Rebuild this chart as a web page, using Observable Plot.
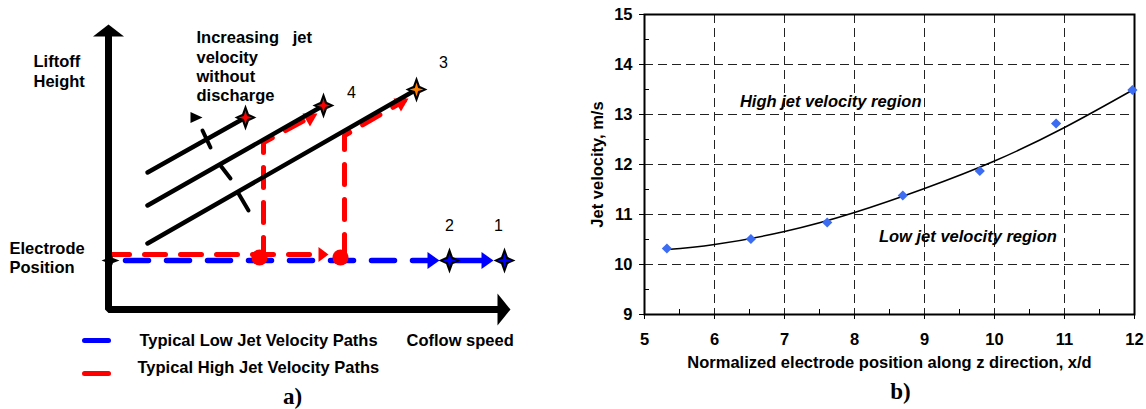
<!DOCTYPE html>
<html>
<head>
<meta charset="utf-8">
<script src="https://cdn.jsdelivr.net/npm/d3@7"></script>
<script src="https://cdn.jsdelivr.net/npm/@observablehq/plot@0.6"></script>
<style>
  html, body { margin: 0; padding: 0; background: #fff; }
  #fig { display: flex; width: 1146px; height: 409px; overflow: hidden; }
  svg text { white-space: pre; }
</style>
</head>
<body>
<div id="fig"></div>
<script>
// ---------------- Panel b data ----------------
const electrodePos = [5.32, 6.52, 7.61, 8.69, 9.79, 10.88, 11.97];
const jetVelocity  = [10.32, 10.51, 10.84, 11.38, 11.87, 12.82, 13.49];
const trendX = [5.32, 6, 7, 8, 9, 10, 11, 12];
const trendY = [10.30, 10.40, 10.66, 11.04, 11.52, 12.07, 12.74, 13.51];
const xTickValues = [5, 6, 7, 8, 9, 10, 11, 12];
const yTickValues = [9, 10, 11, 12, 13, 14, 15];
const xMinorTicks = [5.5, 6.5, 7.5, 8.5, 9.5, 10.5, 11.5];
const yMinorTicks = [9.5, 10.5, 11.5, 12.5, 13.5, 14.5];
const xGridValues = [6, 7, 8, 9, 10, 11];
const yGridValues = [10, 11, 12, 13, 14];
const regionNames = ["High jet velocity region", "Low jet velocity region"];
const regionX = [7.66, 9.62];
const regionY = [13.26, 10.55];
const xTitle = "Normalized electrode position along z direction, x/d";
const yTitle = "Jet velocity, m/s";

// ---------------- Panel a schematic (u = coflow speed, v = liftoff height, arbitrary units) ----------------
const axisPath = [{u: 0, v: 274}, {u: 0, v: 0}, {u: 390, v: 0}];
const axisHeadUp = [{u: 0, v: 285}];
const axisHeadRight = [{u: 402, v: 0}];
const lowPath = [{u: 17, v: 49}, {u: 322, v: 49}];
const lowSolid = [{u: 341, v: 49}, {u: 378, v: 49}];
const lowHeads = [{u: 331, v: 49}, {u: 385, v: 49}];
const highBase = [{u: 0, v: 55}, {u: 210, v: 55}];
const highBaseHead = [{u: 220, v: 55}];
const highPath1 = [{u: 155, v: 52}, {u: 155, v: 167}, {u: 205, v: 194}];
const highPath2 = [{u: 236, v: 55}, {u: 236, v: 174}, {u: 296, v: 209}];
const highDiagHeads = [{u: 209, v: 196}, {u: 300, v: 211}];
const highDots = [{u: 151, v: 52}, {u: 232, v: 52}];
const liftLines = [
  {id: "A", u: 39, v: 137}, {id: "A", u: 137, v: 192},
  {id: "B", u: 39, v: 104}, {id: "B", u: 215, v: 204},
  {id: "C", u: 39, v: 66},  {id: "C", u: 308, v: 220}
];
const liftTicks = [
  {id: 1, u: 94, v: 179}, {id: 1, u: 102, v: 162},
  {id: 2, u: 112, v: 144}, {id: 2, u: 122, v: 131},
  {id: 3, u: 130, v: 116}, {id: 3, u: 140, v: 99}
];
const directionMark = [{u: 94, v: 192}];
const starsHigh = [{u: 137, v: 192}, {u: 215, v: 204}];
const starsPeak = [{u: 308, v: 220}];
const starsLow = [{u: 341, v: 49}, {u: 396, v: 49}];
const startMarker = [{u: 2, v: 49}];
const pointNumbers = [
  {u: 390, v: 84, label: "1"}, {u: 341, v: 84, label: "2"},
  {u: 335, v: 247, label: "3"}, {u: 243, v: 217, label: "4"}
];
const boldLabels = [
  {u: -75, v: 243, label: "Liftoff"}, {u: -75, v: 223, label: "Height"},
  {u: -99, v: 56, label: "Electrode"}, {u: -99, v: 37, label: "Position"},
  {u: 298, v: -36, label: "Coflow speed"},
  {u: 88, v: 267, label: "Increasing   jet"}, {u: 88, v: 247, label: "velocity"},
  {u: 88, v: 228, label: "without"}, {u: 88, v: 209, label: "discharge"}
];
const legendLow = [{u: -24, v: -31}, {u: 0, v: -31}];
const legendHigh = [{u: -24, v: -64}, {u: 0, v: -64}];
const legendLabels = [
  {u: 31, v: -36, label: "Typical Low Jet Velocity Paths"},
  {u: 29, v: -63, label: "Typical High Jet Velocity Paths"}
];

// ---------------- symbols ----------------
function headSymbol(L, W, angleDeg) {
  const a = angleDeg * Math.PI / 180, c = Math.cos(a), s = Math.sin(a);
  const pts = [[0, 0], [-L, -W], [-L, W]].map(([x, y]) => [x * c - y * s, x * s + y * c]);
  return {draw(ctx) { ctx.moveTo(...pts[0]); ctx.lineTo(...pts[1]); ctx.lineTo(...pts[2]); ctx.closePath(); }};
}
function starSymbol(rx, ry, k) {
  return {draw(ctx) {
    ctx.moveTo(0, -ry); ctx.lineTo(k, -k); ctx.lineTo(rx, 0); ctx.lineTo(k, k);
    ctx.lineTo(0, ry); ctx.lineTo(-k, k); ctx.lineTo(-rx, 0); ctx.lineTo(-k, -k); ctx.closePath();
  }};
}
const SANS = "'Liberation Sans', Arial, Helvetica, sans-serif";
const SERIF = "'Liberation Serif', 'Times New Roman', serif";
const BLUE = "#0000ff", RED = "#ff0000", ORANGE = "#ff7f00";
const bigStar = starSymbol(11, 13, 3.4);
const smallStar = starSymbol(7, 7, 1.6);

const P = {x: "u", y: "v"};

const panelA = Plot.plot({
  width: 560, height: 409,
  marginTop: 0, marginRight: 0, marginBottom: 0, marginLeft: 0,
  x: {domain: [-108, 452], range: [0, 560], axis: null},
  y: {domain: [-100, 309], range: [409, 0], axis: null},
  style: {fontFamily: SANS, background: "white", color: "black", overflow: "visible"},
  marks: [
    // low velocity path (blue)
    Plot.line(lowPath, {...P, stroke: BLUE, strokeWidth: 5.5, strokeDasharray: "23,18"}),
    Plot.line(lowSolid, {...P, stroke: BLUE, strokeWidth: 5.5}),
    Plot.dot(lowHeads, {...P, symbol: headSymbol(12, 8.5, 0), fill: BLUE, stroke: "none"}),
    // high velocity paths (red)
    Plot.line(highBase, {...P, stroke: RED, strokeWidth: 5, strokeDasharray: "21,15"}),
    Plot.dot(highBaseHead, {...P, symbol: headSymbol(10, 7.5, 0), fill: RED, stroke: "none"}),
    Plot.line(highPath1, {...P, stroke: RED, strokeWidth: 5, strokeDasharray: "20,15"}),
    Plot.line(highPath2, {...P, stroke: RED, strokeWidth: 5, strokeDasharray: "20,15"}),
    Plot.dot(highDiagHeads, {...P, symbol: headSymbol(13, 7.5, -30), fill: RED, stroke: "none"}),
    Plot.dot(highDots, {...P, r: 8, fill: RED, stroke: "none"}),
    // lift-off lines
    Plot.line(liftLines, {...P, z: "id", stroke: "black", strokeWidth: 4.5}),
    Plot.line(liftTicks, {...P, z: "id", stroke: "black", strokeWidth: 4}),
    Plot.dot(directionMark, {...P, symbol: headSymbol(12, 5.5, 0), fill: "black", stroke: "none"}),
    // axes
    Plot.line(axisPath, {...P, stroke: "black", strokeWidth: 7, strokeLinejoin: "miter", strokeLinecap: "butt"}),
    Plot.dot(axisHeadUp, {...P, symbol: headSymbol(12, 15.5, -90), fill: "black", stroke: "none"}),
    Plot.dot(axisHeadRight, {...P, symbol: headSymbol(13, 16, 0), fill: "black", stroke: "none"}),
    Plot.dot(startMarker, {...P, symbol: starSymbol(9, 9, 2.5), fill: "black", stroke: "none"}),
    // stars
    Plot.dot([...starsHigh, ...starsPeak, ...starsLow], {...P, symbol: bigStar, fill: "black", stroke: "none"}),
    Plot.dot(starsHigh, {...P, symbol: smallStar, fill: RED, stroke: "none"}),
    Plot.dot(starsPeak, {...P, symbol: smallStar, fill: ORANGE, stroke: "none"}),
    Plot.dot(starsLow, {...P, symbol: smallStar, fill: BLUE, stroke: "none"}),
    // texts
    Plot.text(pointNumbers, {...P, text: "label", fontSize: 16, fontWeight: "normal", fill: "black"}),
    Plot.text(boldLabels, {...P, text: "label", textAnchor: "start", lineAnchor: "bottom", fontSize: 16.5, fontWeight: "bold", fill: "black"}),
    // legend
    Plot.line(legendLow, {...P, stroke: BLUE, strokeWidth: 5}),
    Plot.line(legendHigh, {...P, stroke: RED, strokeWidth: 5}),
    Plot.text(legendLabels, {...P, text: "label", textAnchor: "start", lineAnchor: "bottom", fontSize: 16.5, fontWeight: "bold", fill: "black"}),
    Plot.text(["a)"], {frameAnchor: "bottom", dx: 12, dy: -6, lineAnchor: "bottom", fontFamily: SERIF, fontSize: 23, fontWeight: "bold", fill: "black"})
  ]
});

// ---------------- Panel b ----------------
const points = electrodePos.map((x, i) => ({x, y: jetVelocity[i]}));
const trend = trendX.map((x, i) => ({x, y: trendY[i]}));
const regions = regionNames.map((label, i) => ({x: regionX[i], y: regionY[i], label}));

const panelB = Plot.plot({
  width: 586, height: 409,
  marginLeft: 84, marginRight: 12, marginTop: 14, marginBottom: 95,
  x: {domain: [5, 12]},
  y: {domain: [9, 15]},
  style: {fontFamily: SANS, fontSize: "16.5px", fontWeight: "bold", background: "white", color: "black", overflow: "visible"},
  marks: [
    Plot.gridX(xGridValues, {stroke: "#222", strokeOpacity: 1, strokeWidth: 1, strokeDasharray: "9,5"}),
    Plot.gridY(yGridValues, {stroke: "#222", strokeOpacity: 1, strokeWidth: 1, strokeDasharray: "9,5"}),
    Plot.frame({stroke: "black", strokeWidth: 2}),
    Plot.axisY(yTickValues, {label: null, tickSize: 5, tickPadding: 7, tickFormat: (d) => String(d), fontSize: 16.5, fontWeight: "bold"}),
    Plot.axisY(yMinorTicks, {label: null, tickSize: 5, dx: 5, tickFormat: () => ""}),
    Plot.axisX(xTickValues, {label: null, tickSize: 5, tickPadding: 14, tickFormat: (d) => String(d), fontSize: 16.5, fontWeight: "bold"}),
    Plot.axisX(xMinorTicks, {label: null, tickSize: 5, dy: -5, tickFormat: () => ""}),
    Plot.line(trend, {x: "x", y: "y", curve: "natural", stroke: "black", strokeWidth: 1.5}),
    Plot.dot(points, {x: "x", y: "y", symbol: "diamond2", r: 4.6, fill: "#3b6cf2", stroke: "none"}),
    Plot.text(regions, {x: "x", y: "y", text: "label", fontStyle: "italic", fontWeight: "bold", fontSize: 16.5}),
    Plot.text([xTitle], {frameAnchor: "bottom", dy: 53, textAnchor: "middle", fontSize: 16.5, fontWeight: "bold"}),
    Plot.text([yTitle], {frameAnchor: "left", dx: -47, rotate: -90, textAnchor: "middle", fontSize: 16.5, fontWeight: "bold"}),
    Plot.text(["b)"], {frameAnchor: "bottom", dx: 11, dy: 84, textAnchor: "middle", fontFamily: SERIF, fontSize: 23, fontWeight: "bold"})
  ]
});

const fig = document.getElementById("fig");
fig.appendChild(panelA);
fig.appendChild(panelB);
</script>
</body>
</html>
